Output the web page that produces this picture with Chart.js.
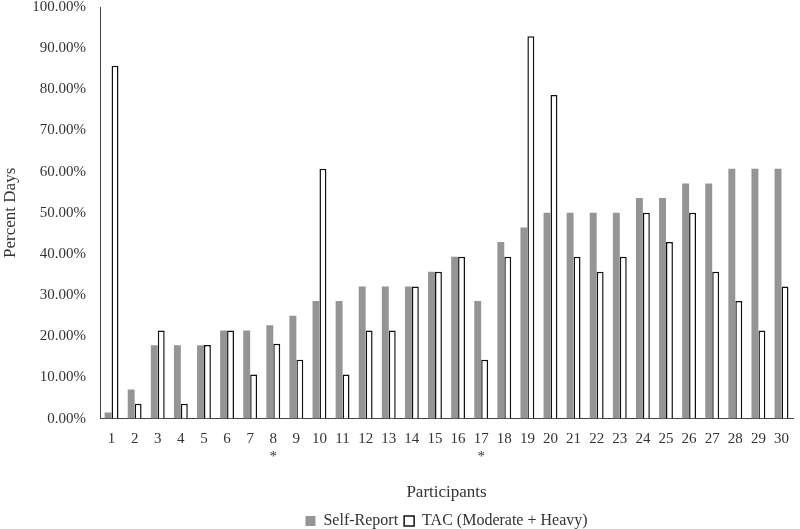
<!DOCTYPE html>
<html>
<head>
<meta charset="utf-8">
<script src="https://cdn.jsdelivr.net/npm/chart.js@4"></script>
<style>
  html, body { margin: 0; padding: 0; background: #fff; }
  #wrap { width: 800px; height: 529px; }
</style>
</head>
<body>
<div id="wrap"><canvas id="chart"></canvas></div>
<script>
const participants = ['1','2','3','4','5','6','7',['8','*'],'9','10','11','12','13','14','15','16',['17','*'],
  '18','19','20','21','22','23','24','25','26','27','28','29','30'];
const selfReport = [1.5, 7.1, 17.8, 17.8, 17.8, 21.4, 21.4, 22.7, 25.0, 28.6, 28.6, 32.1, 32.1, 32.1, 35.7,
  39.3, 28.6, 42.9, 46.4, 50.0, 50.0, 50.0, 50.0, 53.6, 53.6, 57.1, 57.1, 60.7, 60.7, 60.7];
const tac = [85.7, 3.6, 21.4, 3.6, 17.9, 21.4, 10.7, 18.2, 14.3, 60.7, 10.7, 21.4, 21.4, 32.1, 35.7,
  39.3, 14.3, 39.3, 92.9, 78.6, 39.3, 35.7, 39.3, 50.0, 42.9, 50.0, 35.7, 28.6, 21.4, 32.1];
const yTicks = [0, 10, 20, 30, 40, 50, 60, 70, 80, 90, 100];

const font = 'Liberation Serif, Times New Roman, serif';
const txt = '#333';

new Chart(document.getElementById('chart'), {
  type: 'bar',
  data: {
    labels: participants,
    datasets: [
      {
        label: 'Self-Report',
        data: selfReport,
        backgroundColor: '#959595',
        borderWidth: 0,
      },
      {
        label: 'TAC (Moderate + Heavy)',
        data: tac,
        backgroundColor: '#ffffff',
        borderColor: '#111',
        borderWidth: 1.5,
      },
    ],
  },
  options: {
    responsive: true,
    maintainAspectRatio: false,
    animation: false,
    datasets: { bar: { barPercentage: 1, categoryPercentage: 0.6 } },
    layout: { padding: { top: 7, right: 0, left: 0, bottom: -10 } },
    plugins: {
      legend: {
        position: 'bottom',
        fullSize: false,
        labels: { color: txt, font: { family: font, size: 16 }, boxWidth: 10, boxHeight: 10, padding: 6 },
      },
      tooltip: { enabled: false },
    },
    scales: {
      x: {
        grid: { display: false, drawTicks: false },
        border: { color: '#444', width: 1 },
        ticks: { color: txt, font: { family: font, size: 15 }, padding: 11, maxRotation: 0, autoSkip: false },
        title: { display: true, text: 'Participants', color: txt, font: { family: font, size: 17 }, padding: { top: 6, bottom: 4 } },
      },
      y: {
        min: 0,
        max: 100,
        afterBuildTicks: s => { s.ticks = yTicks.map(v => ({ value: v })); },
        afterFit: s => { s.width = 100; s.paddingTop = 0; s.paddingBottom = 0; },
        grid: { display: false, drawTicks: false },
        border: { color: '#444', width: 1 },
        ticks: { color: txt, font: { family: font, size: 15 }, padding: 14, callback: v => v.toFixed(2) + '%' },
        title: { display: true, text: 'Percent Days', color: txt, font: { family: font, size: 17 }, padding: { top: 0, bottom: 2 } },
      },
    },
  },
});
</script>
</body>
</html>
